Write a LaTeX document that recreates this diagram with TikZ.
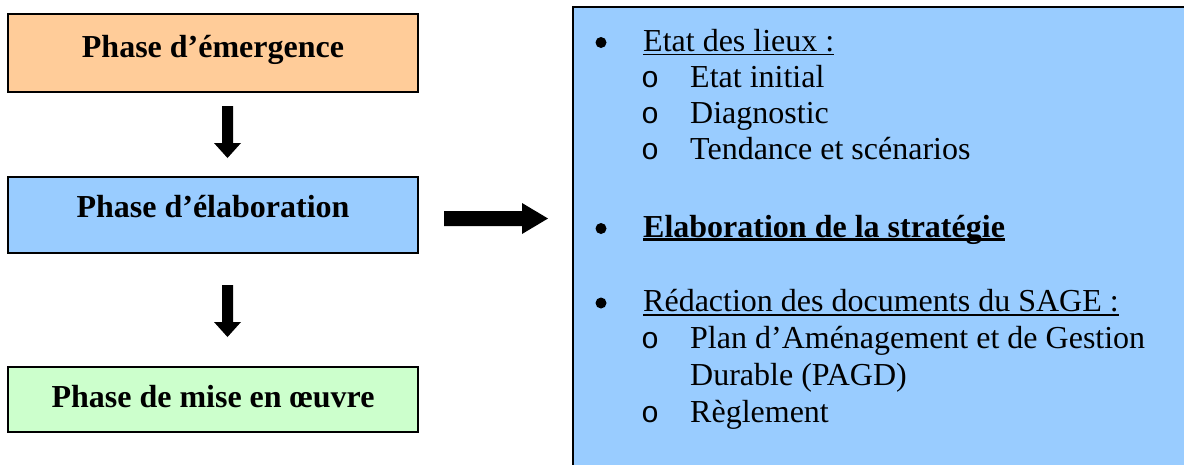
\documentclass[tikz,border=0pt]{standalone}
\usepackage{fontspec}
\setmainfont{Liberation Serif}
\newfontfamily\bulletfont{Liberation Mono}
\definecolor{orangebox}{HTML}{FFCC99}
\definecolor{bluebox}{HTML}{99CCFF}
\definecolor{greenbox}{HTML}{CCFFCC}
% underline at a fixed depth below the baseline
\newcommand\ulinetext[2]{\setbox0\hbox{#2}\rlap{\rule[-0.14em]{\wd0}{#1}}\box0}
\tikzset{
  phasebox/.style={draw=black, line width=1.5pt},
  phasetext/.style={anchor=base, inner sep=0pt, font=\fontsize{32}{37}\selectfont\bfseries},
  itemtext/.style={anchor=base west, inner sep=0pt, font=\fontsize{32}{37}\selectfont},
  bulletone/.style={fill=black, draw=none},
  bullettwo/.style={anchor=base west, inner sep=0pt, font=\fontsize{30}{37}\bulletfont},
  blockarrow/.style={fill=black, draw=none},
}
\begin{document}
\begin{tikzpicture}[x=1pt, y=-1pt]
\useasboundingbox (0,0) rectangle (1184,464);
\clip (0,0) rectangle (1184,464);

% phase boxes
\draw[phasebox, fill=orangebox] (8,14) rectangle (418,92);
\draw[phasebox, fill=bluebox]   (8,177) rectangle (418,253);
\draw[phasebox, fill=greenbox]  (8,367) rectangle (418,432);
\node[phasetext] (emergence)   at (213,57)  {Phase d’émergence};
\node[phasetext] (elaboration) at (213,217) {Phase d’élaboration};
\node[phasetext] (miseoeuvre)  at (213,407) {Phase de mise en œuvre};

% downward block arrows
\fill[blockarrow] (222,106) -- (233,106) -- (233,143) -- (241,143) -- (227.5,158)
  -- (214,143) -- (222,143) -- cycle;
\fill[blockarrow] (222,285) -- (233,285) -- (233,322) -- (241,322) -- (227.5,337)
  -- (214,322) -- (222,322) -- cycle;

% rightward block arrow
\fill[blockarrow] (444,211) -- (522,211) -- (522,203) -- (548,218.5) -- (522,234)
  -- (522,226) -- (444,226) -- cycle;

% detail box
\draw[phasebox, fill=bluebox] (573,7) rectangle (1200,480);

% first level bullets: round dots centred at x-height
\foreach \yy in {51,237,311.5}
  \fill[bulletone] (601,\yy-8.5) circle (5.5);
% second level bullets
\foreach \yy in {87.5,123.5,159.5,348,422}
  \node[bullettwo] at (641,\yy) {o};

\node[itemtext] (lieux)    at (643,51)  {\ulinetext{1.7pt}{Etat des lieux :}};
\node[itemtext] (initial)  at (690,87.5)  {Etat initial};
\node[itemtext] (diag)     at (690,123.5) {Diagnostic};
\node[itemtext] (tendance) at (690,159.5) {Tendance et scénarios};
\node[itemtext, font=\fontsize{32}{37}\selectfont\bfseries] (strategie) at (643,237)
  {\ulinetext{3pt}{Elaboration de la stratégie}};
\node[itemtext] (redaction) at (643,311.5) {\ulinetext{1.7pt}{Rédaction des documents du SAGE :}};
\node[itemtext] (pagd1)    at (690,348) {Plan d’Aménagement et de Gestion};
\node[itemtext] (pagd2)    at (690,385) {Durable (PAGD)};
\node[itemtext] (reglement) at (690,422) {Règlement};
\end{tikzpicture}
\end{document}
